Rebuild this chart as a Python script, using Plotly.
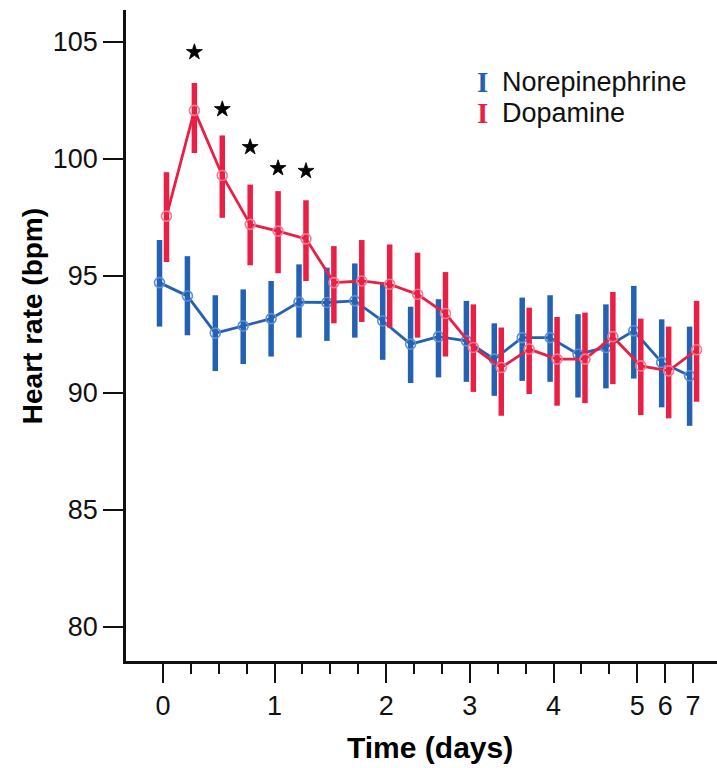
import plotly.graph_objects as go

# ---- data ----
time_index = list(range(20))
tick_positions = [0, 4, 8, 11, 14, 17, 18, 19]
tick_labels = ["0", "1", "2", "3", "4", "5", "6", "7"]
minor_positions = [1, 2, 3, 5, 6, 7, 9, 10, 12, 13, 15, 16]

nor_mean = [94.70, 94.13, 92.54, 92.85, 93.16, 93.87, 93.85, 93.92, 93.06, 92.07,
            92.39, 92.21, 91.43, 92.35, 92.35, 91.64, 91.93, 92.64, 91.29, 90.72]
nor_upper = [96.52, 95.83, 94.16, 94.41, 94.77, 95.48, 95.34, 95.52, 94.70, 93.67,
             93.99, 93.92, 92.96, 94.06, 94.16, 93.35, 93.77, 94.56, 93.13, 92.82]
nor_lower = [92.82, 92.45, 90.92, 91.22, 91.54, 92.35, 92.21, 92.35, 91.40, 90.41,
             90.65, 90.46, 89.86, 90.50, 90.46, 89.79, 90.18, 90.60, 89.37, 88.58]

dop_mean = [97.54, 102.06, 99.28, 97.19, 96.90, 96.57, 94.70, 94.77, 94.63, 94.20,
            93.38, 91.93, 91.07, 91.86, 91.43, 91.43, 92.39, 91.14, 90.93, 91.83]
dop_upper = [99.42, 103.23, 100.99, 98.89, 98.61, 98.22, 96.26, 96.52, 96.33, 95.98,
             95.15, 93.77, 92.78, 93.63, 93.23, 93.42, 94.30, 93.16, 92.82, 93.92]
dop_lower = [95.58, 100.24, 97.47, 95.44, 95.10, 94.77, 92.96, 93.02, 92.78, 92.35,
             91.54, 90.03, 89.01, 89.94, 89.44, 89.55, 90.36, 89.04, 88.90, 89.61]

star_index = [1, 2, 3, 4, 5]
star_y = [104.55, 102.11, 100.49, 99.59, 99.47]

# ---- styling ----
BLUE = "#2561b3"
BLUE_M = "#5c8fd6"
RED = "#ea1f45"
RED_M = "#f27a93"
FONT = "Liberation Sans, Arial, sans-serif"
dodge = 0.125

fig = go.Figure()

def add_series(mean, upper, lower, color, mcolor, shift, name):
    fig.add_trace(go.Scatter(
        x=[t + shift for t in time_index], y=mean, name=name,
        mode="lines+markers",
        line=dict(color=color, width=2.8),
        marker=dict(symbol="circle-open", size=10, color=mcolor, line=dict(width=1.6, color=mcolor)),
        error_y=dict(type="data", symmetric=False,
                     array=[u - m for u, m in zip(upper, mean)],
                     arrayminus=[m - l for m, l in zip(mean, lower)],
                     color=color, thickness=5.5, width=0),
        showlegend=False,
    ))

add_series(nor_mean, nor_upper, nor_lower, BLUE, BLUE_M, -dodge, "Norepinephrine")
add_series(dop_mean, dop_upper, dop_lower, RED, RED_M, dodge, "Dopamine")

fig.add_trace(go.Scatter(
    x=[i + dodge for i in star_index], y=star_y, mode="markers",
    marker=dict(symbol="star", size=12, color="black", line=dict(width=0.8, color="black")),
    showlegend=False,
))

annotations = [
    dict(text="<b>Heart rate (bpm)</b>", xref="paper", yref="paper", x=-0.157, y=0.53,
         textangle=-90, showarrow=False, xanchor="center", yanchor="middle",
         font=dict(family=FONT, size=28, color="black")),
    dict(text="<b>Time (days)</b>", xref="paper", yref="paper", x=0.514, y=-0.1336,
         showarrow=False, xanchor="center", yanchor="middle",
         font=dict(family=FONT, size=30, color="black")),
]
legend_items = [("Norepinephrine", BLUE, 0.889), ("Dopamine", RED, 0.842)]
for label, col, yy in legend_items:
    annotations.append(dict(text="<b>I</b>", xref="paper", yref="paper", x=0.604, y=yy,
                            showarrow=False, xanchor="center", yanchor="middle",
                            font=dict(family="Liberation Serif, serif", size=29, color=col)))
    annotations.append(dict(text=label, xref="paper", yref="paper", x=0.633, y=yy,
                            showarrow=False, xanchor="left", yanchor="middle",
                            font=dict(family=FONT, size=27, color="#111")))

fig.update_layout(
    width=717, height=768,
    margin=dict(l=126, r=0, t=10, b=107),
    paper_bgcolor="white", plot_bgcolor="white",
    font=dict(family=FONT, color="#111"),
    annotations=annotations,
    xaxis=dict(
        range=[-1.326, 19.857], showgrid=False, zeroline=False,
        showline=True, linecolor="#111", linewidth=2.5,
        tickmode="array", tickvals=tick_positions, ticktext=tick_labels,
        ticks="outside", ticklen=19, tickwidth=2, tickcolor="#111",
        tickfont=dict(family=FONT, size=27, color="#111"),
        minor=dict(tickmode="array", tickvals=minor_positions, ticks="outside",
                   ticklen=10, tickwidth=2, tickcolor="#111"),
    ),
    yaxis=dict(
        range=[78.53, 106.35], showgrid=False, zeroline=False,
        showline=True, linecolor="#111", linewidth=2.5,
        tickmode="array", tickvals=[80, 85, 90, 95, 100, 105],
        ticks="outside", ticklen=20, tickwidth=2, tickcolor="#111",
        tickfont=dict(family=FONT, size=27, color="#111"),
    ),
)

fig.write_html("out.html")
